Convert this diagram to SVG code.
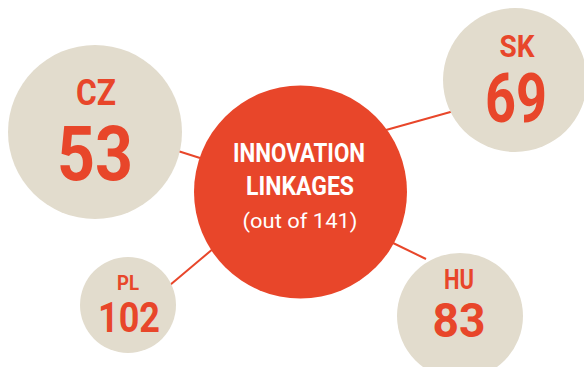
<svg xmlns="http://www.w3.org/2000/svg" width="584" height="367" viewBox="0 0 584 367">
<style>
.bub{fill:#e2dccd}
.hub{fill:#e8462a}
.lk{stroke:#e8462a;stroke-width:2;fill:none}
.lab{font-family:Roboto,"Liberation Sans",sans-serif;font-weight:bold;fill:#e8462a;text-anchor:middle}
.ht{font-family:Roboto,"Liberation Sans",sans-serif;fill:#ffffff;text-anchor:middle}
</style>
<rect width="584" height="367" fill="#ffffff"/>
<g id="connectors">
<line class="lk" x1="178" y1="151" x2="200" y2="158"/>
<line class="lk" x1="386" y1="130" x2="454" y2="111"/>
<line class="lk" x1="391" y1="242" x2="426" y2="259"/>
<line class="lk" x1="170" y1="285" x2="214" y2="248"/>
</g>
<g id="cz">
<circle class="bub" cx="95" cy="132" r="87"/>
<text class="lab" x="96" y="105" font-size="36" textLength="40" lengthAdjust="spacingAndGlyphs">CZ</text>
<text class="lab" x="95" y="180" font-size="76" textLength="76" lengthAdjust="spacingAndGlyphs">53</text>
</g>
<g id="sk">
<circle class="bub" cx="515" cy="80" r="72"/>
<text class="lab" x="517" y="57" font-size="31" textLength="35" lengthAdjust="spacingAndGlyphs">SK</text>
<text class="lab" x="516" y="122" font-size="68" textLength="62" lengthAdjust="spacingAndGlyphs">69</text>
</g>
<g id="pl">
<circle class="bub" cx="128" cy="305" r="48"/>
<text class="lab" x="128" y="290" font-size="21" textLength="22" lengthAdjust="spacingAndGlyphs">PL</text>
<text class="lab" x="129" y="332" font-size="42" textLength="62" lengthAdjust="spacingAndGlyphs">102</text>
</g>
<g id="hu">
<circle class="bub" cx="460" cy="316" r="63"/>
<text class="lab" x="459" y="289" font-size="27" textLength="30" lengthAdjust="spacingAndGlyphs">HU</text>
<text class="lab" x="459" y="337" font-size="48" textLength="53" lengthAdjust="spacingAndGlyphs">83</text>
</g>
<g id="center">
<circle class="hub" cx="300.5" cy="192" r="106.5"/>
<text class="ht" x="299" y="162" font-size="25" font-weight="bold" textLength="132" lengthAdjust="spacingAndGlyphs">INNOVATION</text>
<text class="ht" x="300" y="195" font-size="25" font-weight="bold" textLength="108" lengthAdjust="spacingAndGlyphs">LINKAGES</text>
<text class="ht" x="300" y="228" font-size="21" textLength="115" lengthAdjust="spacingAndGlyphs">(out of 141)</text>
</g>
</svg>
